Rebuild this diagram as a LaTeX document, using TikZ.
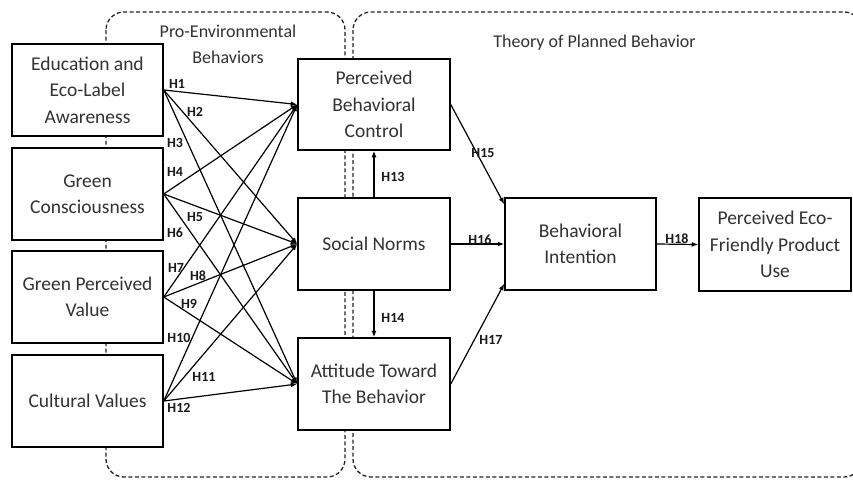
\documentclass[tikz,border=0pt]{standalone}
\usepackage{fontspec}
\setmainfont{Carlito}
\usetikzlibrary{arrows.meta,calc}
\definecolor{txt}{RGB}{50,50,50}
\begin{document}
\begin{tikzpicture}[x=1pt,y=-1pt,
  box/.style={draw=black, line width=1.5pt, fill=white, minimum width=151pt, minimum height=92pt,
    align=center, inner sep=0pt, text=txt, font=\fontsize{19.5}{26.5}\selectfont},
  region/.style={draw=black!85, dash pattern=on 4pt off 2.5pt, line width=1.3pt, rounded corners=18pt},
  arr/.style={-{Latex[length=6.5pt,width=5pt]}, line width=1.2pt},
  hl/.style={font=\bfseries\fontsize{14}{14}\selectfont, inner sep=0pt, text=black!90},
  hdr/.style={font=\fontsize{18}{26}\selectfont, text=txt, align=center}]
\useasboundingbox (0,0) rectangle (853,479);
\fill[white] (0,0) rectangle (853,479);
% dashed regions
\draw[region] (106,12) rectangle (345,477);
\draw[region] (353,12) rectangle (862,477);
% headers
\node[hdr] (peb) at (228,44) {Pro-Environmental\\Behaviors};
\node[hdr] (tpb) at (594.5,43) {Theory of Planned Behavior};
% boxes
\node[box] (edu) at (87.5,90) {Education and\\Eco-Label\\Awareness};
\node[box] (gc) at (87.5,194) {Green\\Consciousness};
\node[box] (gpv) at (87.5,297) {Green Perceived\\Value};
\node[box] (cv) at (87.5,401) {Cultural Values};
\node[box, minimum width=152pt, minimum height=91pt] (pbc) at (374,104.5) {Perceived\\Behavioral\\Control};
\node[box, minimum width=152pt] (sn) at (374,244) {Social Norms};
\node[box, minimum width=152pt] (att) at (374,384) {Attitude Toward\\The Behavior};
\node[box] (bi) at (580.5,244) {Behavioral\\Intention};
\node[box, minimum width=152pt, minimum height=93pt] (pe) at (775,244.5) {Perceived Eco-\\Friendly Product\\Use};
% arrows from antecedents
\foreach \s in {edu,gc,gpv,cv}{
  \foreach \t in {pbc,sn,att}{
    \draw[arr] (\s.east) -- (\t.west);
  }
}
\draw[arr] (sn.north) -- (pbc.south);
\draw[arr] (sn.south) -- (att.north);
\draw[arr] (pbc.east) -- ($(bi.north west)+(0,7)$);
\draw[arr] (sn.east) -- (bi.west);
\draw[arr] (att.east) -- ($(bi.south west)+(0,-7)$);
\draw[arr] (bi.east) -- (pe.west);
% labels
\node[hl] (h1) at (177,84) {H1};
\node[hl] (h2) at (195,112) {H2};
\node[hl] (h3) at (175,143) {H3};
\node[hl] (h4) at (175,172) {H4};
\node[hl] (h5) at (195,217) {H5};
\node[hl] (h6) at (175,233) {H6};
\node[hl] (h7) at (176,268) {H7};
\node[hl] (h8) at (198,276) {H8};
\node[hl] (h9) at (189,304) {H9};
\node[hl] (h10) at (179,338) {H10};
\node[hl] (h11) at (204,377) {H11};
\node[hl] (h12) at (179,408) {H12};
\node[hl] (h13) at (393,177) {H13};
\node[hl] (h14) at (393,318) {H14};
\node[hl] (h15) at (483,153) {H15};
\node[hl] (h16) at (480,240) {H16};
\node[hl] (h17) at (491,340) {H17};
\node[hl] (h18) at (677,239) {H18};
\end{tikzpicture}
\end{document}
